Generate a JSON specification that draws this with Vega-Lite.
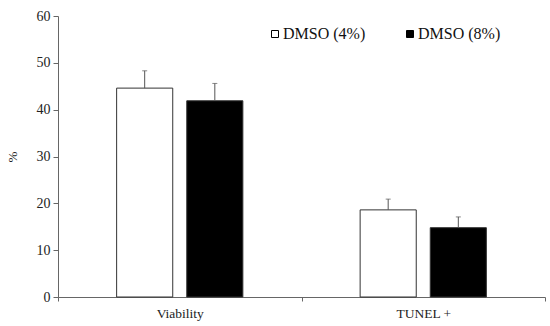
{
  "$schema": "https://vega.github.io/schema/vega-lite/v6.json",
  "width": 487,
  "height": 281,
  "autosize": {"type": "none"},
  "padding": {"left": 58, "top": 16, "right": 5, "bottom": 29},
  "background": "white",
  "config": {
    "view": {"stroke": null},
    "font": "Liberation Serif"
  },
  "data": {
    "values": [
      {"cat": "Viability", "grp": "DMSO (4%)", "value": 44.6, "upper": 48.3},
      {"cat": "Viability", "grp": "DMSO (8%)", "value": 41.9, "upper": 45.6},
      {"cat": "TUNEL +", "grp": "DMSO (4%)", "value": 18.6, "upper": 20.9},
      {"cat": "TUNEL +", "grp": "DMSO (8%)", "value": 14.8, "upper": 17.1}
    ]
  },
  "encoding": {
    "x": {
      "field": "cat",
      "type": "nominal",
      "sort": ["Viability", "TUNEL +"],
      "scale": {"paddingInner": 0, "paddingOuter": 0},
      "axis": {
        "title": null,
        "labelAngle": 0,
        "labelFont": "Liberation Serif",
        "labelFontSize": 13.5,
        "labelColor": "#222",
        "labelPadding": 5,
        "tickBand": "extent",
        "tickSize": 4,
        "tickColor": "#666",
        "domainColor": "#666"
      }
    },
    "xOffset": {
      "field": "grp",
      "type": "nominal",
      "sort": ["DMSO (4%)", "DMSO (8%)"],
      "scale": {"paddingInner": 0.2, "paddingOuter": 0.836}
    }
  },
  "layer": [
    {
      "mark": {"type": "bar", "stroke": "#333", "strokeWidth": 1},
      "encoding": {
        "y": {
          "field": "value",
          "type": "quantitative",
          "scale": {"domain": [0, 60]},
          "axis": {
            "title": "%",
            "titleFont": "Liberation Serif",
            "titleFontSize": 13,
            "titleFontWeight": "normal",
            "titleColor": "#222",
            "titlePadding": 17,
            "values": [0, 10, 20, 30, 40, 50, 60],
            "grid": false,
            "labelFont": "Liberation Serif",
            "labelFontSize": 14,
            "labelColor": "#222",
            "labelPadding": 3,
            "tickSize": 5,
            "tickColor": "#666",
            "domainColor": "#666"
          }
        },
        "fill": {
          "field": "grp",
          "type": "nominal",
          "sort": ["DMSO (4%)", "DMSO (8%)"],
          "scale": {"range": ["white", "black"]},
          "legend": {
            "title": null,
            "orient": "none",
            "legendX": 209,
            "legendY": 10,
            "direction": "horizontal",
            "symbolType": "square",
            "symbolSize": 49,
            "symbolStrokeColor": "black",
            "symbolStrokeWidth": 1,
            "labelFont": "Liberation Serif",
            "labelFontSize": 16,
            "labelColor": "#111",
            "labelOffset": 0,
            "columnPadding": 36
          }
        }
      }
    },
    {
      "mark": {"type": "rule", "color": "#555", "strokeWidth": 1},
      "encoding": {
        "y": {"field": "value", "type": "quantitative"},
        "y2": {"field": "upper"}
      }
    },
    {
      "mark": {"type": "tick", "color": "#555", "size": 5, "thickness": 1},
      "encoding": {
        "y": {"field": "upper", "type": "quantitative"}
      }
    }
  ]
}
